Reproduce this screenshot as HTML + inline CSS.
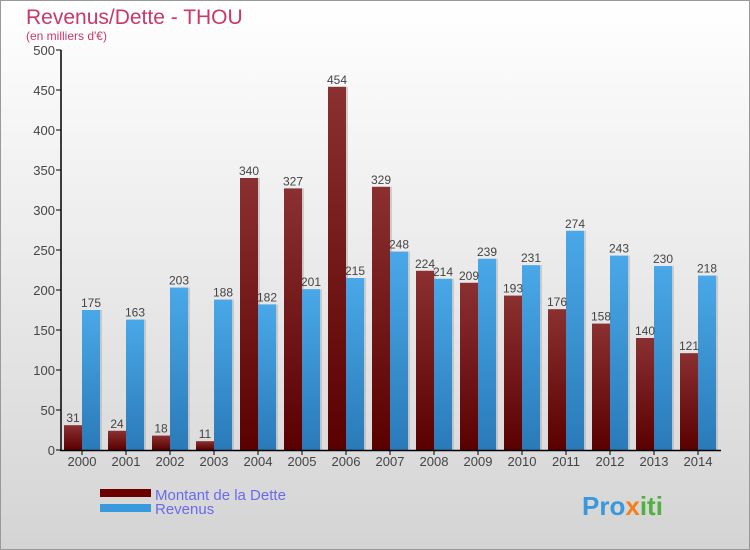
<!DOCTYPE html>
<html><head><meta charset="utf-8"><style>
body{margin:0;width:750px;height:550px;overflow:hidden;font-family:"Liberation Sans",sans-serif}
#root{position:absolute;left:0;top:0;width:748px;height:548px;border:1px solid #999;background:linear-gradient(#fff,#d4d4d4)}
</style></head><body>
<div id="root">
<svg width="750" height="550" style="position:absolute;left:-1px;top:-1px">
<defs>
<linearGradient id="gd" x1="0" y1="0" x2="0" y2="1"><stop offset="0" stop-color="#8b3030"/><stop offset="1" stop-color="#5a0000"/></linearGradient>
<linearGradient id="gr" x1="0" y1="0" x2="0" y2="1"><stop offset="0" stop-color="#4aa8e8"/><stop offset="1" stop-color="#2a7ab8"/></linearGradient>
</defs>
<text x="26" y="24" font-size="21" fill="#c8386a">Revenus/Dette - THOU</text>
<text x="26" y="40" font-size="12" fill="#c8386a">(en milliers d'€)</text>
<g id="plot"></g>
<rect x="100" y="489" width="51" height="8" fill="#6a0000"/>
<rect x="100" y="504" width="51" height="8" fill="#3a98dc"/>
<text x="155" y="500" font-size="15" fill="#6a6aee">Montant de la Dette</text>
<text x="155" y="514" font-size="15" fill="#6a6aee">Revenus</text>
<text x="582" y="515" font-size="26" font-weight="bold" fill="#3a98dc">Pro<tspan fill="#f08020">x</tspan><tspan fill="#50b040">iti</tspan></text>
</svg>
</div>
<script>
const years=["2000","2001","2002","2003","2004","2005","2006","2007","2008","2009","2010","2011","2012","2013","2014"];
const dette=[31,24,18,11,340,327,454,329,224,209,193,176,158,140,121];
const revenus=[175,163,203,188,182,201,215,248,214,239,231,274,243,230,218];
const yTicks=[0,50,100,150,200,250,300,350,400,450,500];
const NS="http://www.w3.org/2000/svg";
const g=document.getElementById('plot');
const y=v=>450-v*0.8;
const x=i=>82+i*44;
function el(t,a,txt){const e=document.createElementNS(NS,t);for(const k in a)e.setAttribute(k,a[k]);if(txt!=null)e.textContent=txt;g.appendChild(e);return e;}
yTicks.forEach(t=>{
 const l=el('line',{x1:56,x2:61,y1:y(t),y2:y(t),stroke:'#000'});
 
 
 const tx=el('text',{x:55,y:y(t)+5,'font-size':13,fill:'#444','text-anchor':'end'},t);
 
 
});
years.forEach((yr,i)=>{
 const cx=x(i);
 const s1=el('rect',{x:cx-18+2,y:y(dette[i]),width:18,height:dette[i]*0.8,fill:'#aaa',opacity:0.5});
 
 
 const b1=el('rect',{x:cx-18,y:y(dette[i]),width:18,height:dette[i]*0.8,fill:'url(#gd)'});
 
 
 const s2=el('rect',{x:cx+2,y:y(revenus[i]),width:18,height:revenus[i]*0.8,fill:'#aaa',opacity:0.5});
 
 
 const b2=el('rect',{x:cx,y:y(revenus[i]),width:18,height:revenus[i]*0.8,fill:'url(#gr)'});
 
 
 const l1=el('text',{x:cx-9,y:y(dette[i])-3,'font-size':12,fill:'#444','text-anchor':'middle'},dette[i]);
 
 
 const l2=el('text',{x:cx+9,y:y(revenus[i])-3,'font-size':12,fill:'#444','text-anchor':'middle'},revenus[i]);
 
 
 const tk=el('line',{x1:cx,x2:cx,y1:450,y2:455,stroke:'#000'});
 
 
 const xl=el('text',{x:cx,y:466,'font-size':13,fill:'#444','text-anchor':'middle'},yr);
 
 
});
const ya=el('line',{x1:61,x2:61,y1:50,y2:451,stroke:'#000','stroke-width':1.5});


const xa=el('line',{x1:60,x2:721,y1:450.5,y2:450.5,stroke:'#000','stroke-width':1.5});


</script>
</body></html>
